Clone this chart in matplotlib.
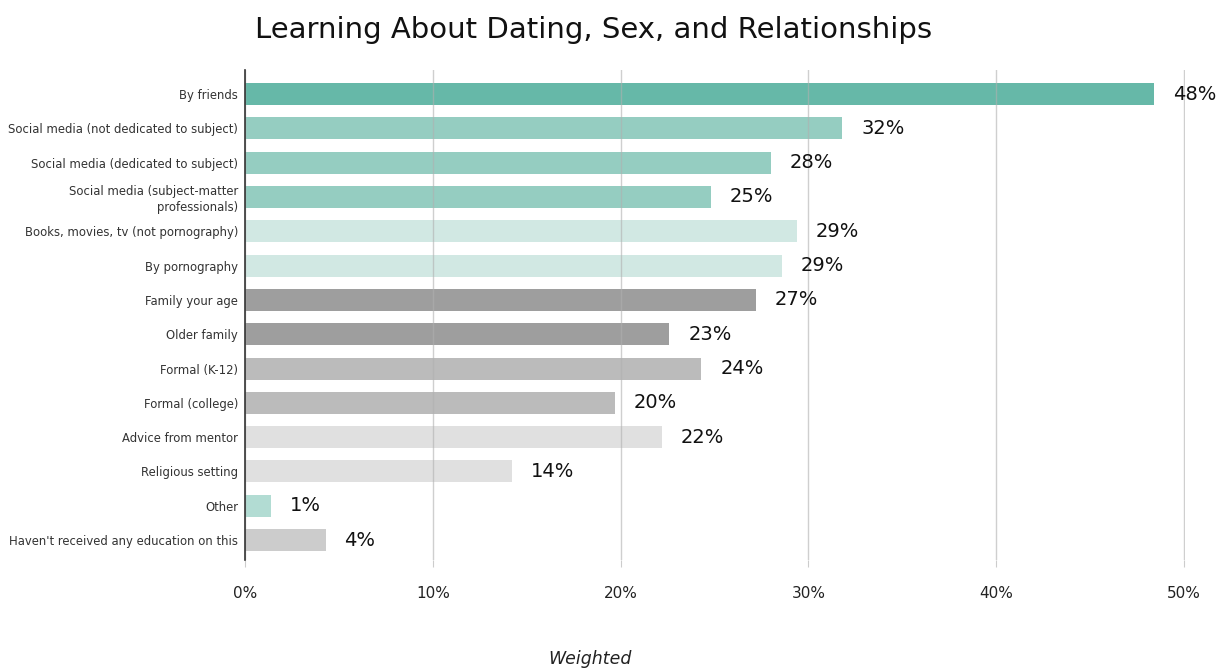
import matplotlib.pyplot as plt
import numpy as np

categories = [
    "By friends",
    "Social media (not dedicated to subject)",
    "Social media (dedicated to subject)",
    "Social media (subject-matter\nprofessionals)",
    "Books, movies, tv (not pornography)",
    "By pornography",
    "Family your age",
    "Older family",
    "Formal (K-12)",
    "Formal (college)",
    "Advice from mentor",
    "Religious setting",
    "Other",
    "Haven't received any education on this",
]
values = [48.4, 31.8, 28.0, 24.8, 29.4, 28.6, 27.2, 22.6, 24.3, 19.7, 22.2, 14.2, 1.4, 4.3]
colors = ["#66b8a8", "#95cdc1", "#95cdc1", "#95cdc1", "#d1e8e3", "#d1e8e3",
          "#9e9e9e", "#9e9e9e", "#bbbbbb", "#bbbbbb", "#e0e0e0", "#e0e0e0",
          "#b2dcd3", "#cccccc"]
xticks = [0, 10, 20, 30, 40, 50]

fig = plt.figure(figsize=(12.17, 6.70), dpi=100)
ax = fig.add_axes([0.2013, 0.1642, 0.7724, 0.7313])

y = np.arange(len(categories))
ax.barh(y, values, height=0.64, color=colors, zorder=1)

for yi, v in zip(y, values):
    ax.text(v + 1.0, yi, f"{round(v)}%", va="center", ha="left",
            fontsize=14, color="#111111")

ax.set_ylim(13.58, -0.7)
ax.set_xlim(0, 50.05)
ax.set_yticks(y)
ax.set_yticklabels(categories, fontsize=8.4, color="#333333", linespacing=1.25)
ax.set_xticks(xticks)
ax.set_xticklabels([f"{t}%" for t in xticks], fontsize=11, color="#222222")
ax.tick_params(axis="y", length=0, pad=5)
ax.tick_params(axis="x", length=5, color="#cccccc", pad=14)

ax.grid(axis="x", color="#b0b0b0", alpha=0.6, linewidth=1, zorder=2)
ax.set_axisbelow(False)
for s in ["top", "right", "bottom"]:
    ax.spines[s].set_visible(False)
ax.spines["left"].set_color("#333333")
ax.spines["left"].set_linewidth(1.2)
ax.spines["left"].set_zorder(3)

fig.text(0.488, 0.955, "Learning About Dating, Sex, and Relationships",
         ha="center", va="center", fontsize=21, color="#111111")
fig.text(0.485, 0.016, "Weighted", ha="center", va="center",
         fontsize=12.5, style="italic", color="#222222")

fig.savefig("out.png", dpi=100)
